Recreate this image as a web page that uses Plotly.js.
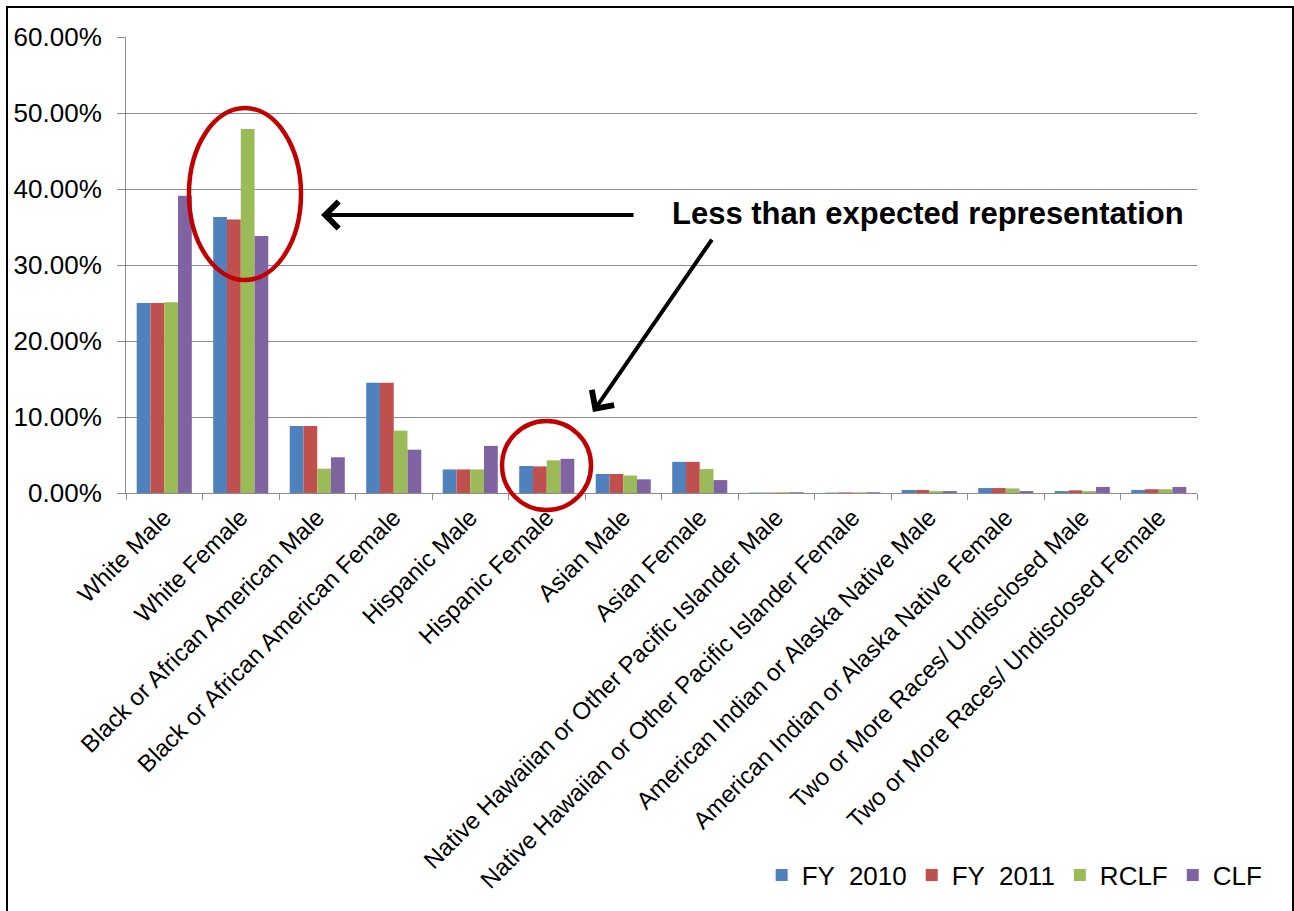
<!DOCTYPE html>
<html>
<head>
<meta charset="utf-8">
<script src="https://cdn.plot.ly/plotly-3.0.1.min.js"></script>
<style>
  html, body { margin: 0; padding: 0; background: #ffffff; overflow: hidden; }
  #chart { width: 1294px; height: 911px; }
  #frame { position: absolute; left: 6px; top: 6px; width: 1284px; height: 930px; border: 2px solid #000; pointer-events: none; }
</style>
</head>
<body>
<div id="chart"></div>
<div id="frame"></div>
<script>
// ---- data ----
const categories = [
  "White Male",
  "White Female",
  "Black or African American Male",
  "Black or African American Female",
  "Hispanic Male",
  "Hispanic Female",
  "Asian Male",
  "Asian Female",
  "Native Hawaiian or Other Pacific Islander Male",
  "Native Hawaiian or Other Pacific Islander Female",
  "American Indian or Alaska Native Male",
  "American Indian or Alaska Native Female",
  "Two or More Races/ Undisclosed Male",
  "Two or More Races/ Undisclosed Female"
];
const seriesNames = ["FY \u00A02010", "FY \u00A02011", "RCLF", "CLF"];
const fy2010 = [0.250, 0.363, 0.088, 0.145, 0.031, 0.0355, 0.025, 0.041, 0.0005, 0.0005, 0.004, 0.0065, 0.0025, 0.004];
const fy2011 = [0.250, 0.360, 0.088, 0.145, 0.031, 0.035, 0.025, 0.041, 0.0005, 0.0008, 0.004, 0.0065, 0.0035, 0.005];
const rclf   = [0.251, 0.479, 0.032, 0.082, 0.031, 0.043, 0.023, 0.0315, 0.001, 0.0008, 0.0025, 0.006, 0.0025, 0.005];
const clf    = [0.391, 0.338, 0.047, 0.057, 0.062, 0.045, 0.018, 0.017, 0.001, 0.001, 0.0025, 0.0025, 0.008, 0.008];
const colors = ["#4F81BD", "#C0504D", "#9BBB59", "#8064A2"];
const yTickVals = [0, 0.1, 0.2, 0.3, 0.4, 0.5, 0.6];
const calloutText = "Less than expected representation";

const allValues = [fy2010, fy2011, rclf, clf];
const traces = allValues.map((vals, i) => ({
  type: "bar",
  name: seriesNames[i],
  x: categories,
  y: vals,
  marker: { color: colors[i], line: { width: 0 } },
  hoverinfo: "skip"
}));

const font = "Liberation Sans, Arial, sans-serif";
const gridColor = "#8C8C8C";

const layout = {
  width: 1294,
  height: 911,
  margin: { l: 126, r: 97, t: 37, b: 418 },
  paper_bgcolor: "#ffffff",
  plot_bgcolor: "#ffffff",
  barmode: "group",
  bargap: 0.28,
  bargroupgap: 0,
  font: { family: font, color: "#000000" },
  showlegend: true,
  legend: {
    orientation: "h",
    x: 1.066, xanchor: "right",
    y: -0.838, yanchor: "middle",
    font: { family: font, size: 26, color: "#000" },
    itemwidth: 30,
    bgcolor: "rgba(0,0,0,0)"
  },
  xaxis: {
    type: "category",
    showgrid: false,
    showline: true,
    linecolor: gridColor,
    linewidth: 1,
    ticks: "outside",
    tickson: "boundaries",
    ticklen: 6,
    tickcolor: gridColor,
    tickangle: -45,
    tickfont: { family: font, size: 24, color: "#000" },
    zeroline: false,
    fixedrange: true
  },
  yaxis: {
    range: [0, 0.6],
    tickvals: yTickVals,
    tickformat: ".2%",
    showgrid: true,
    gridcolor: gridColor,
    gridwidth: 1,
    showline: true,
    linecolor: gridColor,
    linewidth: 1,
    ticks: "outside",
    ticklen: 8,
    tickcolor: gridColor,
    ticklabelstandoff: 10,
    tickfont: { family: font, size: 26, color: "#000" },
    zeroline: false,
    fixedrange: true
  },
  shapes: [
    { type: "circle", xref: "paper", yref: "paper", x0: 0.0588, x1: 0.1634, y0: 0.4671, y1: 0.8443,
      line: { color: "#C00000", width: 4.5 }, fillcolor: "rgba(0,0,0,0)", layer: "above" },
    { type: "circle", xref: "paper", yref: "paper", x0: 0.3511, x1: 0.4342, y0: -0.0373, y1: 0.1579,
      line: { color: "#C00000", width: 4.5 }, fillcolor: "rgba(0,0,0,0)", layer: "above" }
  ],
  annotations: [
    { xref: "paper", yref: "paper", x: 0.7484, y: 0.614, xanchor: "center", yanchor: "middle",
      text: "<b>" + calloutText + "</b>", showarrow: false,
      font: { family: font, size: 31, color: "#000" } },
    { xref: "paper", yref: "paper", x: 0.1821, y: 0.6096, text: "", showarrow: true,
      ax: 314, ay: 0, arrowhead: 4, arrowsize: 1.3, arrowwidth: 4, arrowcolor: "#000", standoff: 0 },
    { xref: "paper", yref: "paper", x: 0.436, y: 0.1776, text: "", showarrow: true,
      ax: 120, ay: -174, arrowhead: 4, arrowsize: 1.3, arrowwidth: 4, arrowcolor: "#000", standoff: 0 }
  ]
};

Plotly.newPlot("chart", traces, layout, { displayModeBar: false, staticPlot: true });
</script>
</body>
</html>
